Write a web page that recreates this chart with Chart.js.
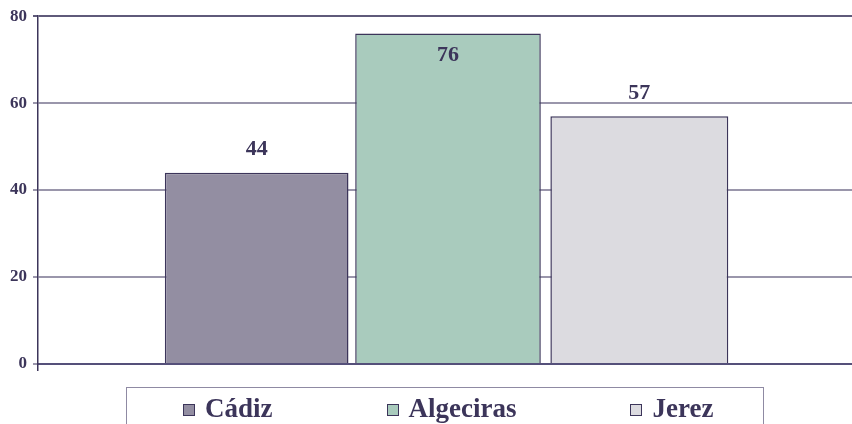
<!DOCTYPE html>
<html>
<head>
<meta charset="utf-8">
<script src="https://cdn.jsdelivr.net/npm/chart.js@4"></script>
<style>
	html, body { margin: 0; padding: 0; background: #fff; }
	#wrap { position: relative; width: 852px; height: 424px; overflow: hidden; }
	#wrap canvas { position: absolute; left: 0; top: 0; }
	#legend {
		position: absolute; left: 126px; top: 387px; width: 638px; height: 70px;
		box-sizing: border-box; border: 1.5px solid #8f8aa3;
		padding: 7px 0 0 56px; display: flex; align-items: flex-start;
		font: bold 27px "Liberation Serif", serif; color: #3c355a; line-height: 27px;
	}
	.item { display: flex; align-items: center; margin-right: 114px; white-space: nowrap; }
	.box { width: 10px; height: 10px; border: 1px solid #3c355a; margin-right: 10px; margin-top: 2px; }
</style>
</head>
<body>
<div id="wrap">
	<!-- plot runs a little past the right edge, like the original -->
	<canvas id="myChart" width="858" height="424"></canvas>
	<div id="legend"></div>
</div>
<script>
// data
const cities = ["Cádiz", "Algeciras", "Jerez"];
const values = [44, 76, 57];
const colors = ["#938ea2", "#a9cbbd", "#dcdbe0"];
const barWidths = [0.96, 0.97, 0.93];
const yTicks = [0, 20, 40, 60, 80];

const textColor = "#3c355a";
const gridColor = "#9a96ab";

const valueLabels = {
	id: "valueLabels",
	afterDatasetsDraw: function (chart) {
		const ctx = chart.ctx;
		ctx.save();
		ctx.font = 'bold 22px "Liberation Serif"';
		ctx.fillStyle = textColor;
		ctx.textAlign = "center";
		ctx.textBaseline = "middle";
		chart.data.datasets.forEach((ds, i) => {
			const bar = chart.getDatasetMeta(i).data[0];
			let y = bar.y - 23;
			// no room above the top of the axis: put it inside
			if (y < chart.chartArea.top + 8) y = bar.y + 22;
			ctx.fillText(String(ds.data[0]), bar.x, y);
		});
		ctx.restore();
	}
};

new Chart(document.getElementById("myChart"), {
	type: "bar",
	data: {
		labels: [""],
		datasets: cities.map((c, i) => ({
			label: c,
			data: [values[i]],
			backgroundColor: colors[i],
			borderColor: "#3c355a",
			borderWidth: 1.5,
			categoryPercentage: 0.7,
			barPercentage: barWidths[i]
		}))
	},
	options: {
		responsive: false,
		animation: false,
		layout: { padding: { left: 8, top: 16, right: 0, bottom: 53 } },
		plugins: {
			legend: { display: false },
			tooltip: { enabled: false }
		},
		scales: {
			x: {
				ticks: { display: false },
				grid: {
					offset: true,
					drawOnChartArea: false,
					tickLength: 7,
					color: textColor,
					lineWidth: 1.5
				},
				border: { color: "#55507a", width: 2 }
			},
			y: {
				min: 0,
				max: 80,
				afterBuildTicks: (scale) => { scale.ticks = yTicks.map(v => ({ value: v })); },
				afterFit: (scale) => { scale.width = 30; },
				ticks: {
					color: textColor,
					padding: 6,
					font: { family: "Liberation Serif", size: 17, weight: "bold" }
				},
				grid: {
					color: (c) => c.tick && c.tick.value === 80 ? "#5f5a7a" : gridColor,
					lineWidth: 2,
					tickLength: 5
				},
				border: { color: textColor, width: 1.5 }
			}
		}
	},
	plugins: [valueLabels]
});

// legend built from the same arrays
const legend = document.getElementById("legend");
cities.forEach((c, i) => {
	const item = document.createElement("div");
	item.className = "item";
	const box = document.createElement("span");
	box.className = "box";
	box.style.background = colors[i];
	const txt = document.createElement("span");
	txt.innerText = c;
	item.appendChild(box);
	item.appendChild(txt);
	legend.appendChild(item);
});
</script>
</body>
</html>
